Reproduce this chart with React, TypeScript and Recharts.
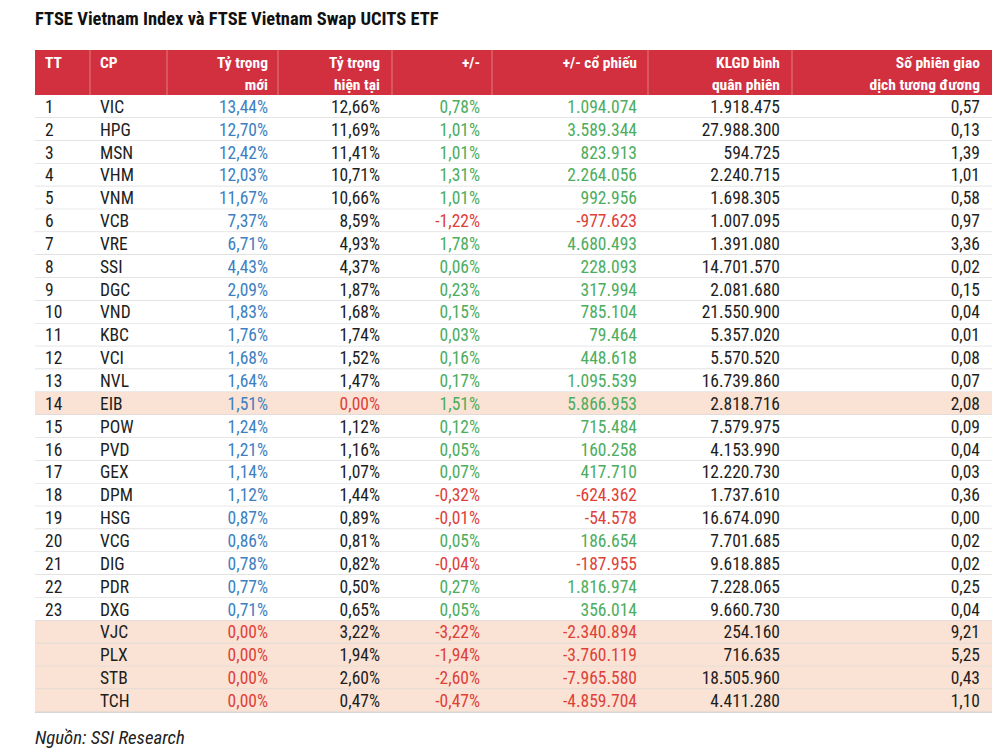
import { Bar, BarChart, Cell, Customized, LabelList, XAxis, YAxis } from "recharts";

const FONT = "'Liberation Sans Narrow', 'Roboto Condensed', 'DejaVu Sans Condensed', sans-serif";

const tt = ["1", "2", "3", "4", "5", "6", "7", "8", "9", "10", "11", "12", "13", "14", "15", "16", "17", "18", "19", "20", "21", "22", "23", "", "", "", ""];
const tickers = ["VIC", "HPG", "MSN", "VHM", "VNM", "VCB", "VRE", "SSI", "DGC", "VND", "KBC", "VCI", "NVL", "EIB", "POW", "PVD", "GEX", "DPM", "HSG", "VCG", "DIG", "PDR", "DXG", "VJC", "PLX", "STB", "TCH"];
const newWeight = [13.44, 12.7, 12.42, 12.03, 11.67, 7.37, 6.71, 4.43, 2.09, 1.83, 1.76, 1.68, 1.64, 1.51, 1.24, 1.21, 1.14, 1.12, 0.87, 0.86, 0.78, 0.77, 0.71, 0, 0, 0, 0];
const curWeight = [12.66, 11.69, 11.41, 10.71, 10.66, 8.59, 4.93, 4.37, 1.87, 1.68, 1.74, 1.52, 1.47, 0, 1.12, 1.16, 1.07, 1.44, 0.89, 0.81, 0.82, 0.5, 0.65, 3.22, 1.94, 2.6, 0.47];
const weightDiff = [0.78, 1.01, 1.01, 1.31, 1.01, -1.22, 1.78, 0.06, 0.23, 0.15, 0.03, 0.16, 0.17, 1.51, 0.12, 0.05, 0.07, -0.32, -0.01, 0.05, -0.04, 0.27, 0.05, -3.22, -1.94, -2.6, -0.47];
const shareDiff = [1094074, 3589344, 823913, 2264056, 992956, -977623, 4680493, 228093, 317994, 785104, 79464, 448618, 1095539, 5866953, 715484, 160258, 417710, -624362, -54578, 186654, -187955, 1816974, 356014, -2340894, -3760119, -7965580, -4859704];
const avgVolume = [1918475, 27988300, 594725, 2240715, 1698305, 1007095, 1391080, 14701570, 2081680, 21550900, 5357020, 5570520, 16739860, 2818716, 7579975, 4153990, 12220730, 1737610, 16674090, 7701685, 9618885, 7228065, 9660730, 254160, 716635, 18505960, 4411280];
const sessionsNeeded = [0.57, 0.13, 1.39, 1.01, 0.58, 0.97, 3.36, 0.02, 0.15, 0.04, 0.01, 0.08, 0.07, 2.08, 0.09, 0.04, 0.03, 0.36, 0.0, 0.02, 0.02, 0.25, 0.04, 9.21, 5.25, 0.43, 1.1];
const highlighted = ["EIB", "VJC", "PLX", "STB", "TCH"];

const headers = [
  ["TT"],
  ["CP"],
  ["Tỷ trọng", "mới"],
  ["Tỷ trọng", "hiện tại"],
  ["+/-"],
  ["+/- cổ phiếu"],
  ["KLGD bình", "quân phiên"],
  ["Số phiên giao", "dịch tương đương"],
];

const data = tickers.map((cp, i) => ({
  tt: tt[i],
  cp,
  newWeight: newWeight[i],
  curWeight: curWeight[i],
  weightDiff: weightDiff[i],
  shareDiff: shareDiff[i],
  avgVolume: avgVolume[i],
  sessions: sessionsNeeded[i],
  band: 1,
}));

const BLUE = "#3d7fc1";
const GREEN = "#4cad5e";
const RED = "#de4139";
const BLACK = "#1e1e1e";

// 13.44 -> "13,44%" ; 1094074 -> "1.094.074"
const pct = (v: number) => v.toFixed(2).replace(".", ",") + "%";
const dec = (v: number) => v.toFixed(2).replace(".", ",");
const thousands = (v: number) => {
  const s = Math.abs(v).toString().replace(/\B(?=(\d{3})+(?!\d))/g, ".");
  return (v < 0 ? "-" : "") + s;
};
const signColor = (v: number) => (v < 0 ? RED : GREEN);

// column text anchors, left edge of text or right edge of text
const columns = [
  { key: "tt", x: 45, anchor: "start", fmt: (v: any) => v, color: () => BLACK },
  { key: "cp", x: 100, anchor: "start", fmt: (v: any) => v, color: () => BLACK },
  { key: "newWeight", x: 268, anchor: "end", fmt: pct, color: (v: number) => (v === 0 ? RED : BLUE) },
  { key: "curWeight", x: 380, anchor: "end", fmt: pct, color: (v: number) => (v === 0 ? RED : BLACK) },
  { key: "weightDiff", x: 480, anchor: "end", fmt: pct, color: signColor },
  { key: "shareDiff", x: 637, anchor: "end", fmt: thousands, color: signColor },
  { key: "avgVolume", x: 780, anchor: "end", fmt: thousands, color: () => BLACK },
  { key: "sessions", x: 980, anchor: "end", fmt: dec, color: () => BLACK },
];
const separators = [90, 167, 278, 392, 492, 648, 792];

const TABLE_LEFT = 35;
const TABLE_RIGHT = 992;
const HEADER_TOP = 50;
const HEADER_BOTTOM = 95;

const RowShape = (props: any) => {
  const { x, y, width, height, fill } = props;
  return (
    <g>
      <rect x={x} y={y} width={width} height={height} fill={fill} />
      <line x1={x} x2={x + width} y1={y + height} y2={y + height} stroke="#d6d6d6" strokeWidth={1.5} />
    </g>
  );
};

const cellRenderer = (col: (typeof columns)[number]) => (props: any) => {
  const { y, height, value } = props;
  return (
    <text
      x={col.x}
      y={y + height / 2 + 6.3}
      textAnchor={col.anchor as any}
      fontFamily={FONT}
      fontSize={17.5}
      fill={col.color(value)}
    >
      {col.fmt(value)}
    </text>
  );
};

const HeaderLayer = () => (
  <g fontFamily={FONT}>
    <text x={TABLE_LEFT} y={25} fontSize={18.5} fontWeight="bold" fill="#111">
      FTSE Vietnam Index và FTSE Vietnam Swap UCITS ETF
    </text>
    <rect x={TABLE_LEFT} y={HEADER_TOP} width={TABLE_RIGHT - TABLE_LEFT} height={HEADER_BOTTOM - HEADER_TOP} fill="#d2303e" />
    {separators.map((sx) => (
      <line key={sx} x1={sx} x2={sx} y1={HEADER_TOP} y2={HEADER_BOTTOM} stroke="#e07a82" strokeWidth={1} />
    ))}
    {columns.map((col, i) =>
      headers[i].map((line, j) => (
        <text
          key={`${i}-${j}`}
          x={col.x}
          y={68 + j * 22}
          textAnchor={col.anchor as any}
          fontSize={15.5}
          fontWeight="bold"
          fill="#fff"
        >
          {line}
        </text>
      ))
    )}
    <text x={TABLE_LEFT} y={744} fontSize={18.8} fontStyle="italic" fill="#222">
      Nguồn: SSI Research
    </text>
  </g>
);

export default function App() {
  return (
    <div style={{ position: "absolute", left: 0, top: 0, width: 1000, height: 754, background: "#fff" }}>
      <BarChart
        width={1000}
        height={754}
        data={data}
        layout="vertical"
        margin={{ top: HEADER_BOTTOM, right: 1000 - TABLE_RIGHT, bottom: 754 - 712, left: TABLE_LEFT }}
        barCategoryGap={0}
      >
        <XAxis type="number" domain={[0, 1]} hide />
        <YAxis type="category" dataKey="cp" hide />
        <Bar dataKey="band" isAnimationActive={false} shape={RowShape}>
          {data.map((d) => (
            <Cell key={d.cp} fill={highlighted.includes(d.cp) ? "#fae3d5" : "#ffffff"} />
          ))}
          {columns.map((col) => (
            <LabelList key={col.key} dataKey={col.key} content={cellRenderer(col)} />
          ))}
        </Bar>
        <Customized component={HeaderLayer} />
      </BarChart>
    </div>
  );
}
